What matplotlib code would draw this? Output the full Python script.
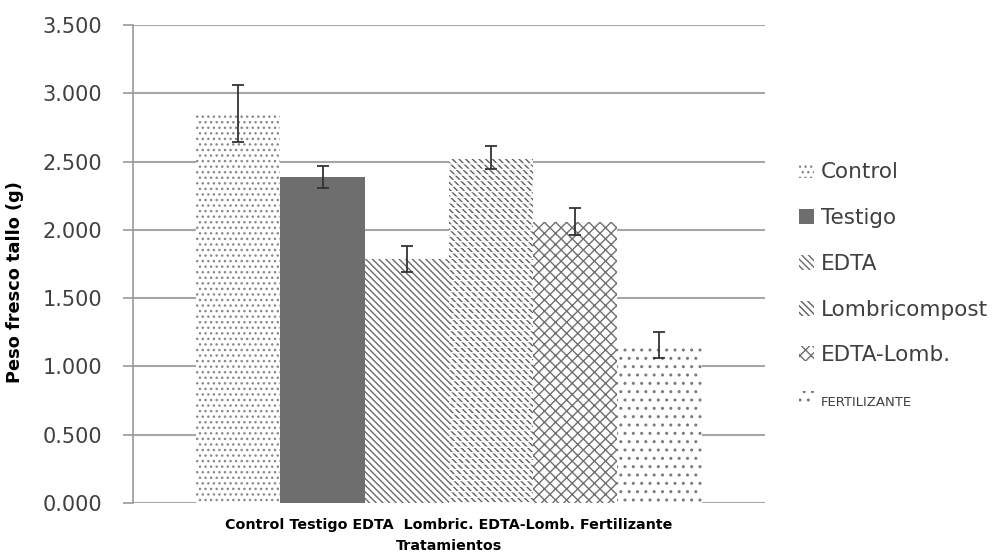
import matplotlib.pyplot as plt
import numpy as np

# Data
tratamientos = ['Control', 'Testigo', 'EDTA', 'Lombricompost', 'EDTA-Lomb.', 'FERTILIZANTE']
peso = [2.85, 2.39, 1.79, 2.53, 2.06, 1.16]
error = [0.21, 0.08, 0.095, 0.085, 0.10, 0.095]
eje_label = 'Control Testigo EDTA  Lombric. EDTA-Lomb. Fertilizante'

faces = ['white', '#6e6e6e', 'white', 'white', 'white', 'white']
hatches = ['...', None, '\\\\\\\\\\', '\\\\\\\\\\', 'xxx', '..']
hatch_cols = ['#8a8a8a', '#6e6e6e', '#6a6a6a', '#5e5e5e', '#707070', '#7a7a7a']

plt.rcParams['font.family'] = 'DejaVu Sans'
plt.rcParams['hatch.linewidth'] = 1.0

fig = plt.figure(figsize=(9.98, 5.57), dpi=100)
ax = fig.add_axes([0.1333, 0.097, 0.633, 0.858])

n = len(tratamientos)
w = 1.0
offsets = (np.arange(n) - (n - 1) / 2) * w

handles = []
for i in range(n):
    b = ax.bar(offsets[i], peso[i], w, color=faces[i], edgecolor=hatch_cols[i],
               hatch=hatches[i], linewidth=0, label=tratamientos[i], zorder=2)
    handles.append(b)
    if tratamientos[i] == 'Lombricompost':
        # white horizontal lines cut the diagonals into rows
        ax.bar(offsets[i], peso[i], w, color='none', edgecolor='white',
               hatch='---', linewidth=0, zorder=2.5)
    ax.errorbar(offsets[i], peso[i], yerr=error[i], fmt='none', ecolor='#333333',
                elinewidth=1.3, capsize=4, capthick=1.3, zorder=3)

ax.set_xlim(-3.75, 3.75)
ax.set_ylim(0, 3.5)
ax.set_yticks(np.arange(0, 3.51, 0.5))
ax.set_yticklabels(['{:.3f}'.format(v) for v in np.arange(0, 3.51, 0.5)],
                   fontsize=15, color='#404040')
ax.set_xticks([0])
ax.set_xticklabels([eje_label], fontsize=10.3, fontweight='bold')
ax.tick_params(axis='x', length=0, pad=11)
ax.tick_params(axis='y', length=7, color='#999999', width=1.2, pad=15)

ax.grid(axis='y', color='#a6a6a6', linewidth=1.5, zorder=0)
ax.set_axisbelow(True)
for s in ['top', 'right', 'bottom']:
    ax.spines[s].set_visible(False)
ax.spines['left'].set_color('#999999')
ax.spines['left'].set_linewidth(1.2)

ax.set_ylabel('Peso fresco tallo (g)', fontsize=12.8, fontweight='bold')
ax.yaxis.set_label_coords(-0.172, 0.462)
ax.set_xlabel('Tratamientos', fontsize=10.3, fontweight='bold', labelpad=5)

leg = fig.legend(handles=handles, loc='center left', bbox_to_anchor=(0.79, 0.487),
                 frameon=False, fontsize=15.5, handlelength=0.7, handleheight=0.7,
                 handletextpad=0.3, labelspacing=1.2, borderpad=0)
for t in leg.get_texts():
    t.set_color('#404040')
leg.get_texts()[-1].set_fontsize(9.5)

fig.savefig('out.png', dpi=100)
